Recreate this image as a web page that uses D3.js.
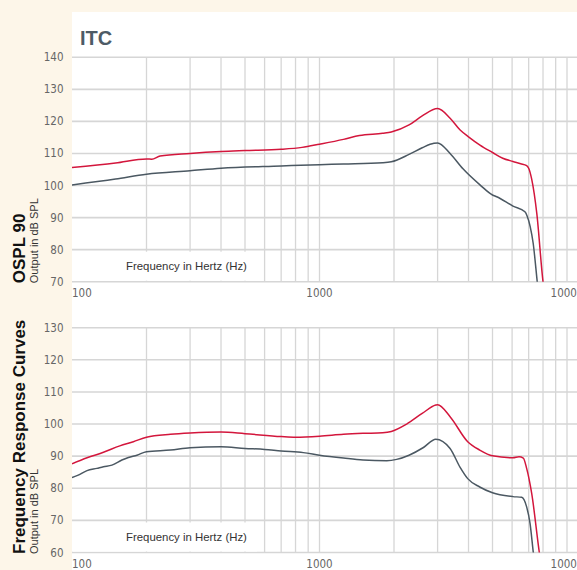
<!DOCTYPE html>
<html>
<head>
<meta charset="utf-8">
<script src="https://cdn.jsdelivr.net/npm/d3@7"></script>
<style>
  body { margin: 0; background: #fdf6e9; }
  svg { display: block; }
</style>
</head>
<body>
<svg id="chart" width="577" height="570"></svg>
<script>
// OSPL 90 curves (frequency in Hz, output in dB SPL)
const osplRedFreq = [100, 150, 200, 210, 227, 300, 400, 500, 700, 850, 1000, 1250, 1450, 1800, 1950, 2300, 2600, 3000, 3370, 3700, 4000, 4450, 5000, 5500, 6050, 6500, 6870, 7000, 7200, 7550, 8000, 8200];
const osplRedVal  = [105.6, 107.0, 108.3, 108.2, 109.2, 110.0, 110.6, 110.9, 111.3, 111.9, 112.9, 114.4, 115.6, 116.3, 116.7, 118.9, 121.7, 124.0, 121.0, 117.3, 115.2, 112.6, 110.3, 108.5, 107.5, 106.8, 106.2, 105.4, 102.0, 91.3, 70, 64];
const osplGreyFreq = [100, 150, 200, 300, 400, 700, 1000, 1250, 1800, 1950, 2300, 2600, 2900, 3000, 3370, 3800, 4450, 5000, 5200, 6050, 6760, 6900, 7100, 7300, 7580, 7700];
const osplGreyVal  = [100.2, 102.0, 103.5, 104.6, 105.4, 106.1, 106.5, 106.7, 107.1, 107.4, 109.7, 111.8, 113.2, 113.3, 110.0, 105.2, 100.2, 97.05, 96.5, 93.6, 91.8, 90.5, 87.2, 82, 70, 65];

// Frequency response curves
const frRedFreq = [100, 115, 134, 156, 177, 200, 250, 300, 400, 500, 700, 800, 1000, 1250, 1500, 1800, 1950, 2250, 2600, 2950, 3000, 3370, 3970, 4440, 5000, 6050, 6400, 6660, 6870, 7200, 7730, 7900];
const frRedVal  = [87.6, 89.5, 91.2, 93.2, 94.5, 95.9, 96.8, 97.2, 97.5, 97.0, 96.1, 95.9, 96.2, 96.8, 97.1, 97.3, 97.7, 100.0, 103.3, 105.9, 106.0, 102.3, 94.5, 91.9, 90.1, 89.5, 89.8, 89.4, 86.2, 78.4, 60, 55];
const frGreyFreq = [100, 106, 115, 126, 134, 145, 159, 169, 183, 200, 250, 300, 400, 500, 600, 700, 860, 1000, 1250, 1500, 1870, 2050, 2300, 2630, 2950, 3370, 3700, 3970, 4440, 5000, 6050, 6560, 6870, 7090, 7310, 7450];
const frGreyVal  = [83.3, 84.1, 85.5, 86.2, 86.7, 87.2, 88.8, 89.6, 90.3, 91.4, 91.9, 92.6, 92.9, 92.4, 92.1, 91.6, 91.1, 90.3, 89.4, 88.8, 88.6, 89.0, 90.3, 92.7, 95.3, 92.4, 86.5, 83.0, 80.4, 78.6, 77.4, 77.2, 74.2, 69.1, 60, 55];

const gridFreqs = [200, 300, 400, 500, 600, 700, 800, 900, 1000, 2000, 3000, 4000, 5000, 6000, 7000, 8000, 9000, 10000];
const xTickFreqs = [100, 1000, 10000];
const osplTicks = [70, 80, 90, 100, 110, 120, 130, 140];
const frTicks = [60, 70, 80, 90, 100, 110, 120, 130];

const red = "#d3163c";
const grey = "#4b5862";
const gridColor = "#d6d6d6";
const font = "'Liberation Sans', Arial, sans-serif";
const narrow = "'Liberation Sans Narrow', 'DejaVu Sans Condensed', 'Liberation Sans', sans-serif";

const svg = d3.select("#chart");

// white panel
svg.append("rect").attr("x", 72).attr("y", 12).attr("width", 505).attr("height", 558).attr("fill", "#fff");

svg.append("text").attr("x", 80).attr("y", 44.5)
  .attr("font-family", font).attr("font-weight", "bold").attr("font-size", 20)
  .attr("fill", "#4d5b66").text("ITC");

const x = d3.scaleLog().domain([100, 10000]).range([72, 567]);

const zip = (f, v) => f.map((d, i) => ({ f: d, v: v[i] }));

function panel(id, domain, top, bottom, ticks, series, title, labelY) {
  const y = d3.scaleLinear().domain(domain).range([bottom, top]);
  const g = svg.append("g");

  g.selectAll(".hg").data(ticks).enter().append("line")
    .attr("x1", 72).attr("x2", 577)
    .attr("y1", d => y(d)).attr("y2", d => y(d))
    .attr("stroke", gridColor).attr("stroke-width", 1.6);

  g.selectAll(".vg").data(gridFreqs).enter().append("line")
    .attr("x1", d => x(d)).attr("x2", d => x(d))
    .attr("y1", top).attr("y2", bottom)
    .attr("stroke", gridColor).attr("stroke-width", 1.3);

  // white box behind axis title
  g.append("rect").attr("x", 73).attr("y", bottom - 30).attr("width", 184).attr("height", 29).attr("fill", "#fff");
  g.append("text").attr("x", 126).attr("y", labelY)
    .attr("font-family", font).attr("font-size", 11.4).attr("fill", "#333")
    .text("Frequency in Hertz (Hz)");

  // y tick labels
  g.selectAll(".yl").data(ticks).enter().append("text")
    .attr("x", 63.5).attr("y", d => y(d) + 4)
    .attr("text-anchor", "end")
    .attr("font-family", narrow).attr("font-size", 11.5).attr("fill", "#666")
    .text(d => d);

  // x tick labels (last one runs off the edge, as in the original)
  g.selectAll(".xl").data(xTickFreqs).enter().append("text")
    .attr("x", d => d === 100 ? 72 : x(d)).attr("y", bottom + 15.5)
    .attr("text-anchor", d => d === 100 ? "start" : "middle")
    .attr("font-family", narrow).attr("font-size", 11.5).attr("fill", "#666")
    .text(d => d);

  // clip for curves
  svg.append("clipPath").attr("id", id)
    .append("rect").attr("x", 72).attr("y", top - 5).attr("width", 505).attr("height", bottom - top + 5);

  const line = d3.line().x(d => x(d.f)).y(d => y(d.v)).curve(d3.curveMonotoneX);
  series.forEach(s => {
    g.append("path").datum(s.data)
      .attr("clip-path", `url(#${id})`)
      .attr("d", line).attr("fill", "none")
      .attr("stroke", s.color).attr("stroke-width", 1.5);
  });

  // side titles
  g.append("text").attr("transform", `translate(24.5,${bottom + 1.5}) rotate(-90)`)
    .attr("font-family", font).attr("font-weight", "bold").attr("font-size", 17).attr("fill", "#111")
    .text(title);
  g.append("text").attr("transform", `translate(37.5,${bottom + 1.5}) rotate(-90)`)
    .attr("font-family", font).attr("font-size", 11).attr("fill", "#333")
    .text("Output in dB SPL");
}

panel("clipTop", [70, 140], 57.3, 281.7, osplTicks,
  [{ data: zip(osplRedFreq, osplRedVal), color: red }, { data: zip(osplGreyFreq, osplGreyVal), color: grey }],
  "OSPL 90", 270);

panel("clipBottom", [60, 130], 327.7, 552.5, frTicks,
  [{ data: zip(frRedFreq, frRedVal), color: red }, { data: zip(frGreyFreq, frGreyVal), color: grey }],
  "Frequency Response Curves", 541);
</script>
</body>
</html>
